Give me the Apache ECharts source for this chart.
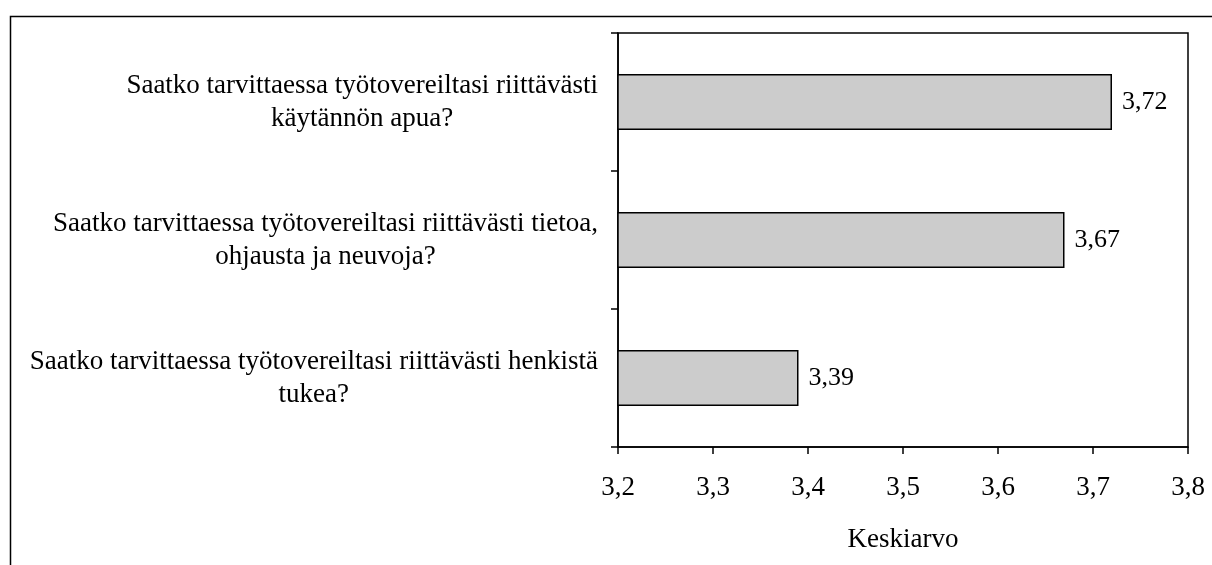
<!DOCTYPE html>
<html><head><meta charset="utf-8">
<script src="https://cdn.jsdelivr.net/npm/echarts@6/dist/echarts.min.js"></script>
<style>html,body{margin:0;padding:0;background:#fff}#c{width:1212px;height:565px}</style>
</head><body><div id="c"></div>
<script>
const categories = [
  ["Saatko tarvittaessa työtovereiltasi riittävästi", "käytännön apua?"],
  ["Saatko tarvittaessa työtovereiltasi riittävästi tietoa,", "ohjausta ja neuvoja?"],
  ["Saatko tarvittaessa työtovereiltasi riittävästi henkistä", "tukea?"]
];
const values = [3.72, 3.67, 3.39];
const xTicks = [3.2, 3.3, 3.4, 3.5, 3.6, 3.7, 3.8];
const axisName = "Keskiarvo";

const FONT = "Liberation Serif";
const chart = echarts.init(document.getElementById('c'), null, {renderer: 'canvas'});
chart.setOption({
  animation: false,
  backgroundColor: '#fff',
  graphic: [{
    type: 'rect', left: 8, top: 14, z: -10,
    shape: {width: 1400, height: 800},
    style: {fill: 'none', stroke: '#000', lineWidth: 1.5}
  }],
  grid: {left: 618, top: 33, right: 24, bottom: 118, show: true,
         borderColor: '#000', borderWidth: 1.5, backgroundColor: 'transparent'},
  xAxis: {
    type: 'value', min: xTicks[0], max: xTicks[xTicks.length - 1], interval: 0.1,
    name: axisName, nameLocation: 'middle', nameGap: 79,
    nameTextStyle: {fontFamily: FONT, fontSize: 27, color: '#000'},
    axisLine: {show: true, lineStyle: {color: '#000', width: 1.5}},
    axisTick: {show: true, length: 7, lineStyle: {color: '#000', width: 1.5}},
    splitLine: {show: false},
    axisLabel: {fontFamily: FONT, fontSize: 27, color: '#000', margin: 27,
      formatter: v => v.toFixed(1).replace('.', ',')}
  },
  yAxis: {
    type: 'category', inverse: true,
    data: categories.map(c => c.join('\n')),
    axisLine: {show: true, lineStyle: {color: '#000', width: 1.5}},
    axisTick: {show: true, length: 7, lineStyle: {color: '#000', width: 1.5}},
    axisLabel: {fontFamily: FONT, fontSize: 27, color: '#000', margin: 20,
      formatter: v => v.split('\n').map(l => '{c|' + l + '}').join('\n'),
      rich: {c: {align: 'center', fontFamily: FONT, fontSize: 27, color: '#000', lineHeight: 33}}}
  },
  series: [{
    type: 'bar', data: values, barWidth: 56,
    itemStyle: {color: '#cccccc', borderColor: '#000', borderWidth: 1.5},
    label: {show: true, position: 'right', distance: 10, fontFamily: FONT, fontSize: 26, color: '#000',
      formatter: p => p.value.toFixed(2).replace('.', ',')}
  }]
});
</script></body></html>
